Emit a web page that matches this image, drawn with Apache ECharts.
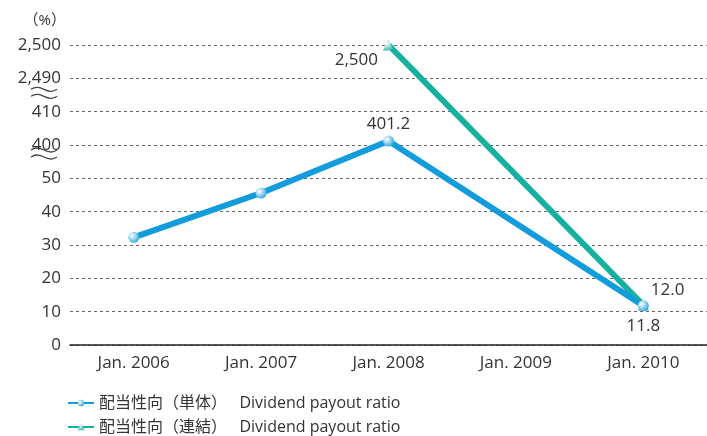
<!DOCTYPE html>
<html>
<head>
<meta charset="utf-8">
<script src="https://cdn.jsdelivr.net/npm/echarts@6/dist/echarts.min.js"></script>
<style>
html,body{margin:0;padding:0;background:#fff;}
#payout{width:707px;height:436px;}
</style>
</head>
<body>
<div id="payout"></div>
<script>
var categories = ['Jan. 2006', 'Jan. 2007', 'Jan. 2008', 'Jan. 2009', 'Jan. 2010'];
// 配当性向（単体）
var singleValues = [32.3, 45.6, 401.2, null, 11.8];
// 配当性向（連結）
var consolidatedValues = [null, null, 2500, null, 12.0];
var tickLabels = ['0', '10', '20', '30', '40', '50', '400', '410', '2,490', '2,500'];
var seriesNames = ['配当性向（単体）', '配当性向（連結）'];

// broken axis: each tick sits 10 units apart on the drawn scale
function toAxis(v) {
	if (v == null) return null;
	if (v <= 50) return v;
	if (v <= 410) return 60 + (v - 400);
	return 80 + (v - 2490);
}
function fmt(v) {
	if (v >= 1000) return v.toLocaleString('en-US');
	return v.toFixed(1);
}
function buildData(arr) {
	return arr.map(function (v, i) {
		return v == null ? null : { value: [i, toAxis(v)], raw: v };
	});
}

var font = '"Open Sans", "Noto Sans CJK JP", sans-serif';
var blue = '#129cdc';
var teal = '#16b09f';

function grad(c) {
	return new echarts.graphic.RadialGradient(0.35, 0.35, 0.8, [
		{ offset: 0, color: '#ffffff' },
		{ offset: 1, color: c }
	]);
}
function legendRow(name, top) {
	return {
		left: 67,
		top: top,
		padding: 0,
		itemWidth: 26,
		itemHeight: 8,
		textStyle: { fontSize: 16, color: '#333', fontFamily: font },
		formatter: function (n) {
			return n + '   Dividend payout ratio';
		},
		data: [name]
	};
}

var myChart = echarts.init(document.getElementById('payout'));
var option = {
	animation: false,
	textStyle: { fontFamily: font },
	grid: { left: 70, right: 0, top: 45, bottom: 91 },
	legend: [legendRow(seriesNames[0], 395), legendRow(seriesNames[1], 419)],
	xAxis: {
		type: 'category',
		data: categories,
		boundaryGap: true,
		axisLine: { lineStyle: { color: '#222', width: 1.5 } },
		axisTick: { show: false },
		axisLabel: { color: '#333', fontSize: 17, margin: 10 }
	},
	yAxis: {
		type: 'value',
		min: 0,
		max: 90,
		interval: 10,
		name: '（%）',
		nameLocation: 'end',
		nameGap: 17,
		nameTextStyle: { color: '#333', fontSize: 15, align: 'right', padding: [0, 4, 0, 0] },
		axisLine: { show: false },
		axisTick: { show: false },
		axisLabel: {
			color: '#333',
			fontSize: 17,
			margin: 9,
			formatter: function (v) { return tickLabels[Math.round(v / 10)]; }
		},
		splitLine: { lineStyle: { color: '#666', type: [3, 3], width: 1 } }
	},
	series: [
		{
			name: seriesNames[0],
			type: 'line',
			connectNulls: true,
			data: buildData(singleValues),
			symbol: 'circle',
			symbolSize: 11,
			itemStyle: { color: grad(blue) },
			lineStyle: { color: blue, width: 6 },
			z: 3,
			label: {
				show: false,
				color: '#333',
				fontSize: 17,
				formatter: function (p) { return fmt(p.data.raw); }
			},
			emphasis: { disabled: true }
		},
		{
			name: seriesNames[1],
			type: 'line',
			connectNulls: true,
			data: buildData(consolidatedValues),
			symbol: 'triangle',
			symbolSize: 11,
			itemStyle: { color: grad(teal) },
			lineStyle: { color: teal, width: 6 },
			z: 2,
			label: {
				show: false,
				color: '#333',
				fontSize: 17,
				formatter: function (p) { return fmt(p.data.raw); }
			},
			emphasis: { disabled: true }
		}
	]
};

// per-point label placement
option.series[0].data[2].label = { show: true, position: 'top', distance: 3 };
option.series[0].data[4].label = { show: true, position: 'bottom', distance: 6 };
option.series[1].data[2].label = { show: true, position: 'left', distance: 5, offset: [0, 15] };
option.series[1].data[4].label = { show: true, position: 'right', distance: 2, offset: [0, -15] };

myChart.setOption(option);

// wavy break marks under the 2,490 and 400 labels
function wave(y) {
	return {
		type: 'bezierCurve',
		x: 31, y: y,
		shape: { x1: 0, y1: 3, x2: 26, y2: 3, cpx1: 10, cpy1: -4, cpx2: 16, cpy2: 10 },
		style: { stroke: '#444', fill: null, lineWidth: 1.3 },
		silent: true
	};
}
var y2490 = myChart.convertToPixel({ yAxisIndex: 0 }, toAxis(2490));
var y400 = myChart.convertToPixel({ yAxisIndex: 0 }, toAxis(400));
myChart.setOption({
	graphic: [wave(y2490 + 8), wave(y2490 + 15), wave(y400 + 2), wave(y400 + 9)]
});
</script>
</body>
</html>
